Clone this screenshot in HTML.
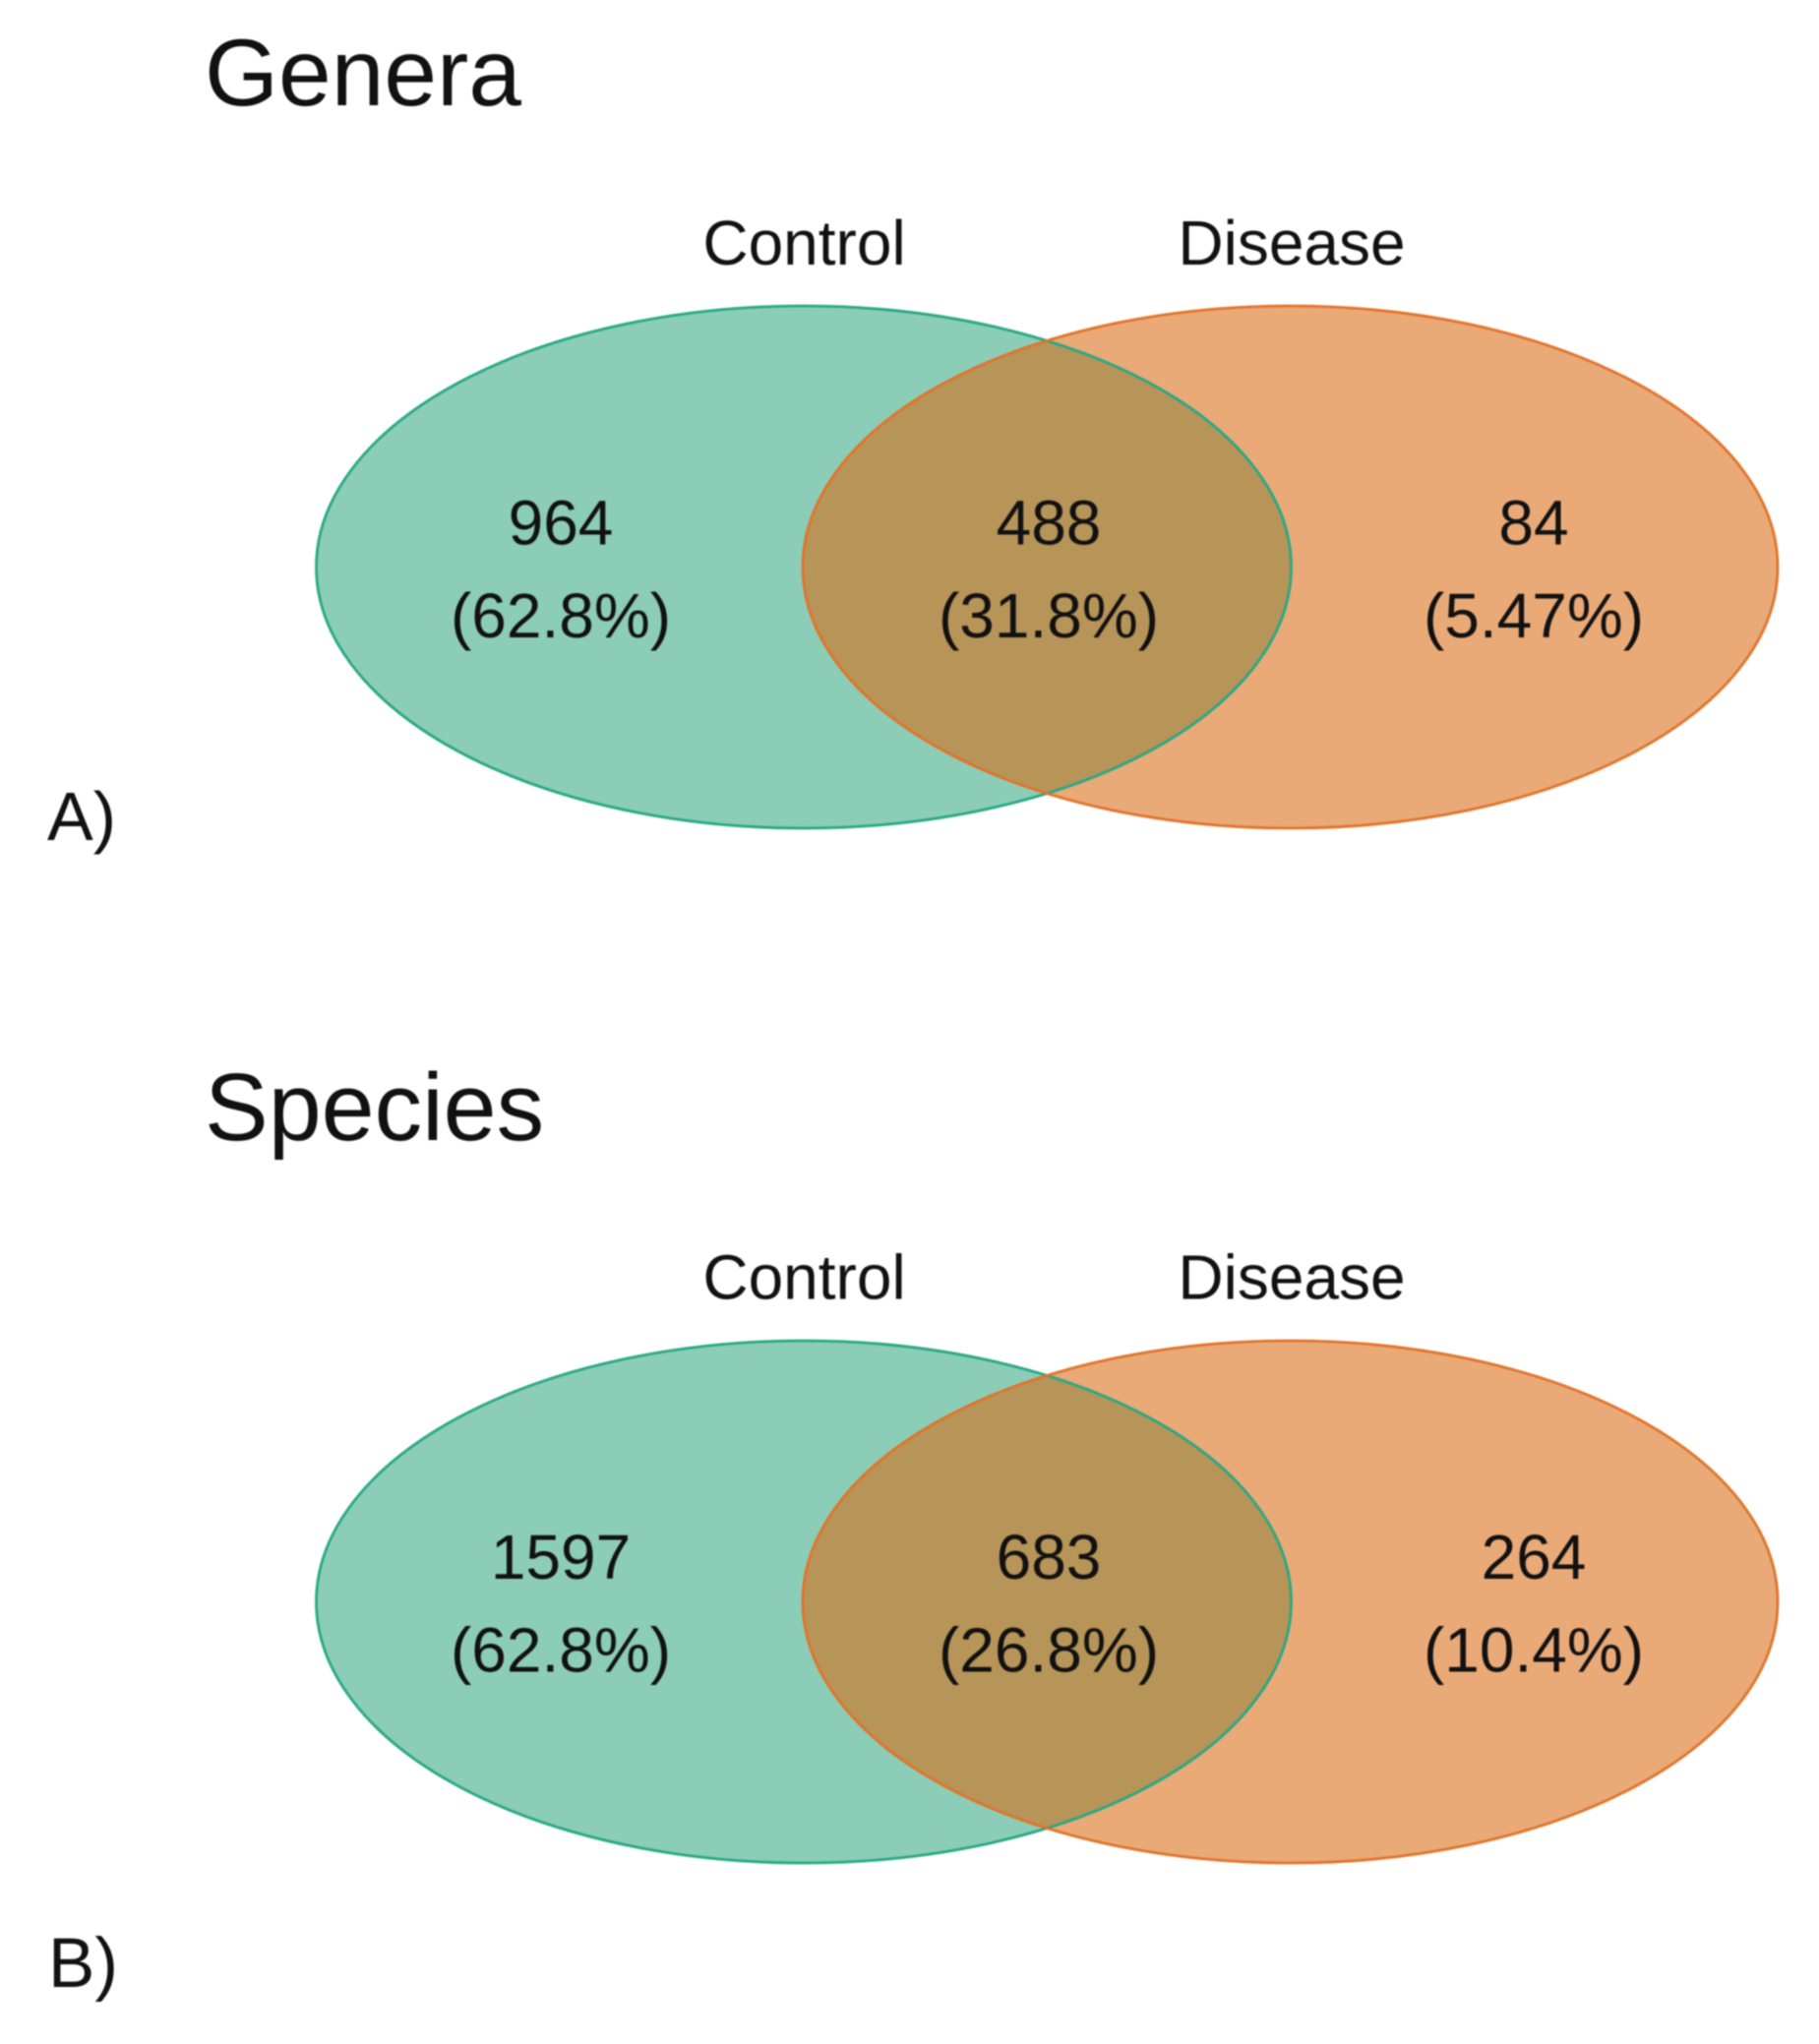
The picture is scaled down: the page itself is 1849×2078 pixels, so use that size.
<!DOCTYPE html>
<html lang="en">
<head>
<meta charset="utf-8">
<title>Venn diagrams of genera and species</title>
<style>
  html, body { margin: 0; padding: 0; background: #ffffff; }
  body { width: 1849px; height: 2078px; overflow: hidden; }
  #chart { display: block; filter: blur(0.9px); font-family: "Liberation Sans", sans-serif; fill: #111; }
</style>
</head>
<body>
<svg id="chart" xmlns="http://www.w3.org/2000/svg" width="1849" height="2078" viewBox="0 0 1849 2078">
  <text x="208" y="107" font-size="96.5">Genera</text>
  <text x="48" y="854" font-size="70">A)</text>
  <text x="208" y="1159" font-size="97">Species</text>
  <text x="49" y="2020" font-size="71">B)</text>
  <g id="panels"></g>
</svg>
<script>
const setNames = ["Control", "Disease"];
const generaCounts = [964, 488, 84];
const speciesCounts = [1597, 683, 264];

const NS = "http://www.w3.org/2000/svg";
const root = document.getElementById("panels");

function make(tag, attrs, parent) {
  const node = document.createElementNS(NS, tag);
  for (const key in attrs) node.setAttribute(key, attrs[key]);
  parent.appendChild(node);
  return node;
}

function percentLabel(count, counts) {
  const total = counts.reduce(function (a, b) { return a + b; }, 0);
  return "(" + (100 * count / total).toPrecision(3) + "%)";
}

function drawPanel(panelName, counts, centerY, labelY) {
  const group = make("g", {}, root);
  
  

  const controlX = 817, diseaseX = 1311.5, rx = 495.5, ry = 265.5;

  const controlFill = make("ellipse", { cx: controlX, cy: centerY, rx: rx, ry: ry, fill: "#199b6f", "fill-opacity": 0.5 }, group);
  
  

  const diseaseFill = make("ellipse", { cx: diseaseX, cy: centerY, rx: rx, ry: ry, fill: "#da680f", "fill-opacity": 0.56 }, group);
  
  

  const controlEdge = make("ellipse", { cx: controlX, cy: centerY, rx: rx, ry: ry, fill: "none", stroke: "#27a884", "stroke-width": 2.8 }, group);
  
  

  const diseaseEdge = make("ellipse", { cx: diseaseX, cy: centerY, rx: rx, ry: ry, fill: "none", stroke: "#e0742a", "stroke-width": 2.8 }, group);
  
  

  const controlTitle = make("text", { x: 817.5, y: labelY, "font-size": 64, "text-anchor": "middle" }, group);
  controlTitle.textContent = setNames[0];
  
  

  const diseaseTitle = make("text", { x: 1313, y: labelY, "font-size": 64, "text-anchor": "middle" }, group);
  diseaseTitle.textContent = setNames[1];
  
  

  const regionX = [570, 1066, 1559];
  const regionNames = ["control-only", "shared", "disease-only"];
  counts.forEach(function (count, i) {
    const countText = make("text", { x: regionX[i], y: labelY + 284.5, "font-size": 64, "text-anchor": "middle" }, group);
    countText.textContent = String(count);
    
    

    const pctText = make("text", { x: regionX[i], y: labelY + 379, "font-size": 64, "text-anchor": "middle" }, group);
    pctText.textContent = percentLabel(count, counts);
    
    
  });
}

drawPanel("genera", generaCounts, 576.5, 269);
drawPanel("species", speciesCounts, 1628.5, 1320.5);
</script>
</body>
</html>
